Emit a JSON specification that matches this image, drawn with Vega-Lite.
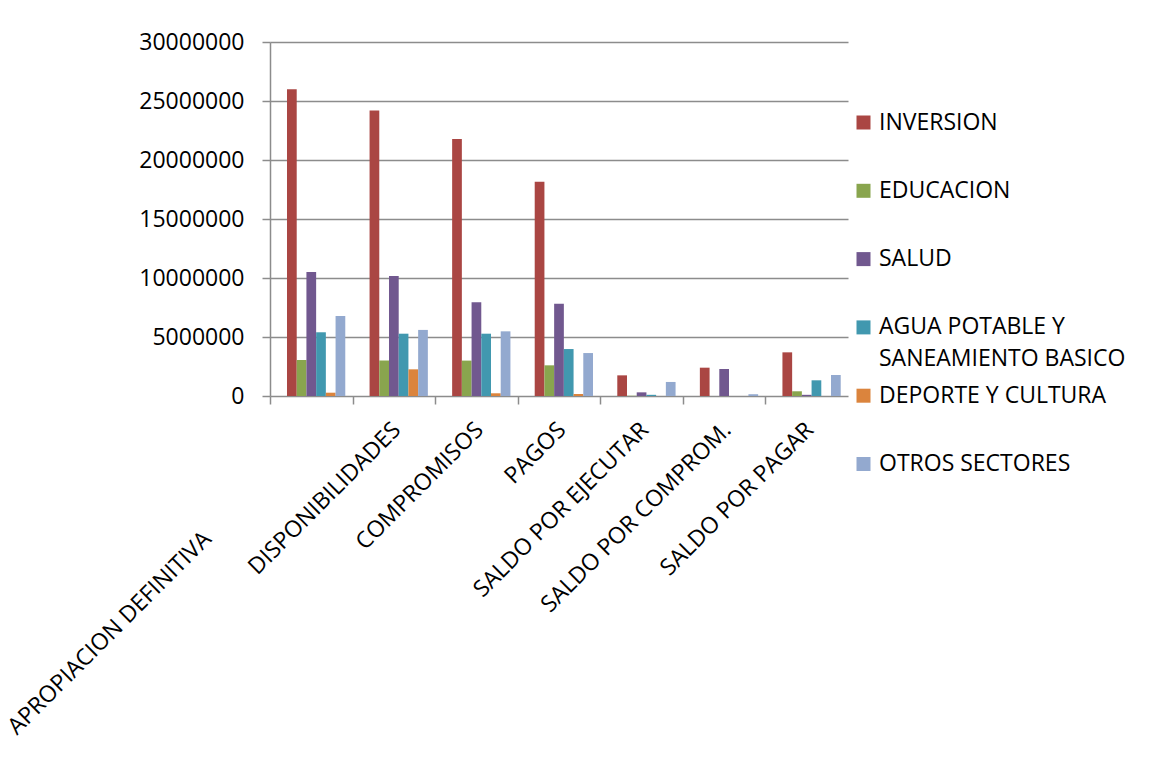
{
  "$schema": "https://vega.github.io/schema/vega-lite/v6.json",
  "width": 578,
  "height": 354,
  "autosize": {"type": "none"},
  "padding": {"left": 270, "top": 42, "right": 303, "bottom": 384},
  "background": "white",
  "data": {
    "values": [
      {"rubro": "APROPIACION DEFINITIVA", "sector": "INVERSION", "valor": 26000000},
      {"rubro": "APROPIACION DEFINITIVA", "sector": "EDUCACION", "valor": 3050000},
      {"rubro": "APROPIACION DEFINITIVA", "sector": "SALUD", "valor": 10500000},
      {"rubro": "APROPIACION DEFINITIVA", "sector": "AGUA POTABLE Y SANEAMIENTO BASICO", "valor": 5400000},
      {"rubro": "APROPIACION DEFINITIVA", "sector": "DEPORTE Y CULTURA", "valor": 280000},
      {"rubro": "APROPIACION DEFINITIVA", "sector": "OTROS SECTORES", "valor": 6780000},
      {"rubro": "DISPONIBILIDADES", "sector": "INVERSION", "valor": 24200000},
      {"rubro": "DISPONIBILIDADES", "sector": "EDUCACION", "valor": 3000000},
      {"rubro": "DISPONIBILIDADES", "sector": "SALUD", "valor": 10170000},
      {"rubro": "DISPONIBILIDADES", "sector": "AGUA POTABLE Y SANEAMIENTO BASICO", "valor": 5280000},
      {"rubro": "DISPONIBILIDADES", "sector": "DEPORTE Y CULTURA", "valor": 2260000},
      {"rubro": "DISPONIBILIDADES", "sector": "OTROS SECTORES", "valor": 5600000},
      {"rubro": "COMPROMISOS", "sector": "INVERSION", "valor": 21770000},
      {"rubro": "COMPROMISOS", "sector": "EDUCACION", "valor": 3000000},
      {"rubro": "COMPROMISOS", "sector": "SALUD", "valor": 7940000},
      {"rubro": "COMPROMISOS", "sector": "AGUA POTABLE Y SANEAMIENTO BASICO", "valor": 5280000},
      {"rubro": "COMPROMISOS", "sector": "DEPORTE Y CULTURA", "valor": 230000},
      {"rubro": "COMPROMISOS", "sector": "OTROS SECTORES", "valor": 5480000},
      {"rubro": "PAGOS", "sector": "INVERSION", "valor": 18150000},
      {"rubro": "PAGOS", "sector": "EDUCACION", "valor": 2600000},
      {"rubro": "PAGOS", "sector": "SALUD", "valor": 7820000},
      {"rubro": "PAGOS", "sector": "AGUA POTABLE Y SANEAMIENTO BASICO", "valor": 3980000},
      {"rubro": "PAGOS", "sector": "DEPORTE Y CULTURA", "valor": 170000},
      {"rubro": "PAGOS", "sector": "OTROS SECTORES", "valor": 3640000},
      {"rubro": "SALDO POR EJECUTAR", "sector": "INVERSION", "valor": 1750000},
      {"rubro": "SALDO POR EJECUTAR", "sector": "EDUCACION", "valor": 20000},
      {"rubro": "SALDO POR EJECUTAR", "sector": "SALUD", "valor": 310000},
      {"rubro": "SALDO POR EJECUTAR", "sector": "AGUA POTABLE Y SANEAMIENTO BASICO", "valor": 100000},
      {"rubro": "SALDO POR EJECUTAR", "sector": "DEPORTE Y CULTURA", "valor": 0},
      {"rubro": "SALDO POR EJECUTAR", "sector": "OTROS SECTORES", "valor": 1190000},
      {"rubro": "SALDO POR COMPROM.", "sector": "INVERSION", "valor": 2400000},
      {"rubro": "SALDO POR COMPROM.", "sector": "EDUCACION", "valor": 0},
      {"rubro": "SALDO POR COMPROM.", "sector": "SALUD", "valor": 2290000},
      {"rubro": "SALDO POR COMPROM.", "sector": "AGUA POTABLE Y SANEAMIENTO BASICO", "valor": 0},
      {"rubro": "SALDO POR COMPROM.", "sector": "DEPORTE Y CULTURA", "valor": 0},
      {"rubro": "SALDO POR COMPROM.", "sector": "OTROS SECTORES", "valor": 150000},
      {"rubro": "SALDO POR PAGAR", "sector": "INVERSION", "valor": 3700000},
      {"rubro": "SALDO POR PAGAR", "sector": "EDUCACION", "valor": 400000},
      {"rubro": "SALDO POR PAGAR", "sector": "SALUD", "valor": 100000},
      {"rubro": "SALDO POR PAGAR", "sector": "AGUA POTABLE Y SANEAMIENTO BASICO", "valor": 1330000},
      {"rubro": "SALDO POR PAGAR", "sector": "DEPORTE Y CULTURA", "valor": 0},
      {"rubro": "SALDO POR PAGAR", "sector": "OTROS SECTORES", "valor": 1780000}
    ]
  },
  "mark": {"type": "bar"},
  "encoding": {
    "x": {
      "field": "rubro",
      "type": "nominal",
      "sort": null,
      "title": null,
      "scale": {"paddingInner": 0.1765, "paddingOuter": 0.0882},
      "axis": {
        "domain": false,
        "ticks": true,
        "tickSize": 8,
        "tickColor": "#8c8c8c",
        "tickWidth": 1.5,
        "tickOffset": -41.3,
        "labelAngle": -45,
        "labelAlign": "right",
        "labelBaseline": "middle",
        "labelFont": "Open Sans",
        "labelFontSize": 23,
        "labelColor": "#000000",
        "labelLimit": 400,
        "labelOverlap": false,
        "labelOffset": {"condition": {"test": "datum.value == 'APROPIACION DEFINITIVA'", "value": -63}, "value": 44},
        "labelPadding": {"condition": {"test": "datum.value == 'APROPIACION DEFINITIVA'", "value": 131}, "value": 22}
      }
    },
    "xOffset": {
      "field": "sector",
      "type": "nominal",
      "scale": {
        "domain": ["_", "INVERSION", "EDUCACION", "SALUD", "AGUA POTABLE Y SANEAMIENTO BASICO", "DEPORTE Y CULTURA", "OTROS SECTORES"],
        "paddingInner": 0,
        "paddingOuter": 0
      }
    },
    "y": {
      "field": "valor",
      "type": "quantitative",
      "title": null,
      "scale": {"domain": [0, 30000000], "nice": false},
      "axis": {
        "values": [0, 5000000, 10000000, 15000000, 20000000, 25000000, 30000000],
        "format": "d",
        "grid": true,
        "gridColor": "#8c8c8c",
        "gridWidth": 1.5,
        "domain": true,
        "domainColor": "#8c8c8c",
        "domainWidth": 1.5,
        "tickSize": 8,
        "tickColor": "#8c8c8c",
        "tickWidth": 1.5,
        "labelPadding": 18,
        "labelFont": "Open Sans",
        "labelFontSize": 23,
        "labelColor": "#000000"
      }
    },
    "color": {
      "field": "sector",
      "type": "nominal",
      "title": null,
      "scale": {
        "domain": ["INVERSION", "EDUCACION", "SALUD", "AGUA POTABLE Y SANEAMIENTO BASICO", "DEPORTE Y CULTURA", "OTROS SECTORES"],
        "range": ["#AA4643", "#89A54E", "#71588F", "#4198AF", "#DB843D", "#93A9CF"]
      },
      "legend": {
        "orient": "none",
        "legendX": 582,
        "legendY": 69,
        "padding": 0,
        "symbolType": "square",
        "symbolSize": 196,
        "symbolStrokeWidth": 0,
        "symbolOpacity": 1,
        "labelFont": "Open Sans",
        "labelFontSize": 23,
        "labelColor": "#000000",
        "labelLimit": 400,
        "labelOffset": 4,
        "gridAlign": "all",
        "rowPadding": 12.3,
        "labelExpr": "datum.label == 'AGUA POTABLE Y SANEAMIENTO BASICO' ? ['AGUA POTABLE Y', 'SANEAMIENTO BASICO'] : datum.label"
      }
    }
  },
  "config": {
    "view": {"stroke": null},
    "style": {"guide-label": {"lineHeight": 32}}
  }
}
